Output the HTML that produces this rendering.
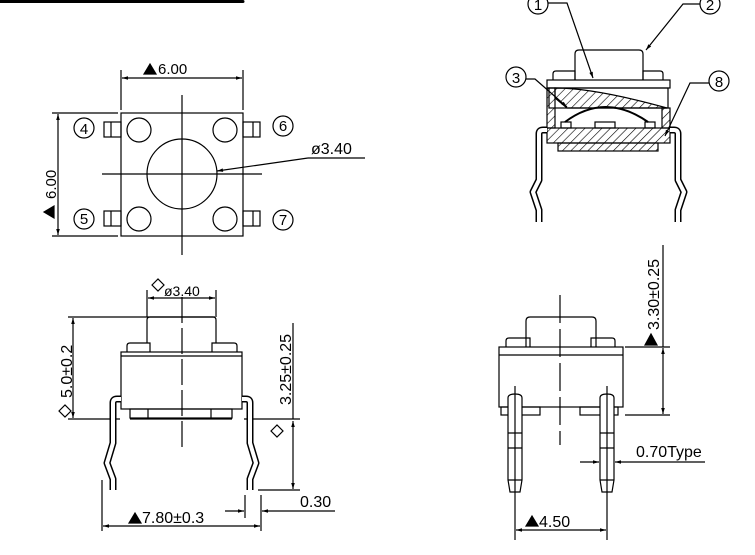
<!DOCTYPE html>
<html><head><style>html,body{margin:0;padding:0;background:#fff}svg{display:block}</style></head><body>
<svg width="755" height="555" viewBox="0 0 755 555" xmlns="http://www.w3.org/2000/svg" font-family="Liberation Sans, sans-serif" fill="none" stroke="#000" stroke-width="1.2">
<defs>
<pattern id="h" width="6" height="6" patternUnits="userSpaceOnUse" patternTransform="rotate(45)"><line x1="0" y1="0" x2="0" y2="6" stroke="#000" stroke-width="1.2"/></pattern>
<marker id="a" viewBox="0 0 10 10" refX="10" refY="5" markerWidth="8" markerHeight="6" orient="auto-start-reverse" markerUnits="userSpaceOnUse"><path d="M0,2L10,5L0,8z" fill="#000" stroke="none"/></marker>
</defs>
<path d="M0,1.5H243" stroke-width="3" stroke-linecap="round"/>

<!-- TOP-LEFT VIEW -->
<rect x="121" y="113" width="122" height="123"/>
<line x1="121" y1="70" x2="121" y2="110"/><line x1="243" y1="70" x2="243" y2="110"/>
<line x1="122" y1="78" x2="242" y2="78" marker-start="url(#a)" marker-end="url(#a)"/>
<path d="M144,74l6,-10l6,10z" fill="#000"/>
<text x="158" y="74" font-size="15" fill="#000" stroke="none">6.00</text>
<line x1="52" y1="113" x2="118" y2="113"/><line x1="52" y1="236" x2="118" y2="236"/>
<line x1="58" y1="114" x2="58" y2="235" marker-start="url(#a)" marker-end="url(#a)"/>
<text transform="translate(56,199) rotate(-90)" font-size="15" fill="#000" stroke="none">6.00</text>
<path d="M44,212l10,-6l0,12z" fill="#000"/>
<line x1="182" y1="95" x2="182" y2="255"/>
<line x1="102" y1="174" x2="262" y2="174"/>
<circle cx="182" cy="174" r="35"/>
<circle cx="139" cy="130" r="12"/><circle cx="225" cy="130" r="12"/>
<circle cx="139" cy="219" r="12"/><circle cx="225" cy="219" r="12"/>
<g>
<rect x="104" y="122" width="17" height="15"/><line x1="111" y1="122" x2="111" y2="137"/>
<rect x="104" y="211" width="17" height="15"/><line x1="111" y1="211" x2="111" y2="226"/>
<rect x="243" y="122" width="17" height="15"/><line x1="253" y1="122" x2="253" y2="137"/>
<rect x="243" y="211" width="17" height="15"/><line x1="253" y1="211" x2="253" y2="226"/>
</g>
<g font-size="15" fill="#000" stroke="none" text-anchor="middle">
<text x="84" y="134">4</text><text x="283" y="131">6</text><text x="84" y="224">5</text><text x="283" y="225">7</text>
</g>
<circle cx="84" cy="128" r="10"/><circle cx="283" cy="126" r="10"/><circle cx="84" cy="219" r="10"/><circle cx="283" cy="220" r="10"/>
<line x1="308" y1="158" x2="217" y2="171" marker-end="url(#a)"/>
<line x1="308" y1="158" x2="365" y2="158"/>
<text x="311" y="154" font-size="16" fill="#000" stroke="none">ø3.40</text>

<!-- TOP-RIGHT SECTION -->
<path d="M575,80V54q0,-4 4,-4h60q4,0 4,4V80"/>
<path d="M553,80v-6q0,-3 3,-3h19v9M643,80v-9h17q3,0 3,3v6"/>
<rect x="547" y="80" width="123" height="8"/>
<rect x="547" y="88" width="8" height="40" fill="url(#h)"/>
<rect x="662" y="108" width="8" height="20" fill="url(#h)"/>
<rect x="549" y="88" width="119" height="20"/>
<path d="M555,88q40,0 112,20h-100l-12,-10z" fill="url(#h)"/>
<path d="M565,122q40,-30 83,0" stroke-width="2"/>
<rect x="561" y="122" width="10" height="6"/><rect x="595" y="122" width="20" height="6"/><rect x="645" y="122" width="10" height="6"/>
<rect x="547" y="128" width="123" height="15" fill="url(#h)"/>
<rect x="558" y="143" width="100" height="8" fill="url(#h)"/>
<path d="M547,130h-4q-4,0 -4,4v46l-6,12l6,18v12M670,130h4q4,0 4,4v46l6,12l-6,18v12" stroke="#000" stroke-width="7" stroke-linejoin="round"/>
<path d="M547,130h-4q-4,0 -4,4v46l-6,12l6,18v12M670,130h4q4,0 4,4v46l6,12l-6,18v12" stroke="#fff" stroke-width="4" stroke-linejoin="round"/>
<circle cx="538" cy="4" r="10"/><text x="538" y="10" font-size="15" fill="#000" stroke="none" text-anchor="middle">1</text>
<path d="M548,3h19l26,75" marker-end="url(#a)"/>
<circle cx="710" cy="4" r="10"/><text x="710" y="10" font-size="15" fill="#000" stroke="none" text-anchor="middle">2</text>
<path d="M700,4h-17l-37,46" marker-end="url(#a)"/>
<circle cx="516" cy="77" r="10"/><text x="516" y="83" font-size="15" fill="#000" stroke="none" text-anchor="middle">3</text>
<path d="M526,79h9l32,28" marker-end="url(#a)"/>
<circle cx="719" cy="81" r="10"/><text x="719" y="87" font-size="15" fill="#000" stroke="none" text-anchor="middle">8</text>
<path d="M709,83h-19l-25,53" marker-end="url(#a)"/>

<!-- BOTTOM-LEFT VIEW -->
<path d="M147,343V320q0,-3 3,-3h63q3,0 3,3V343"/>
<path d="M127,352v-6q0,-3 3,-3h20v9M212,352v-9h22q3,0 3,3v6"/>
<rect x="121" y="352" width="121" height="57"/><line x1="121" y1="356" x2="242" y2="356"/>
<rect x="130" y="409" width="102" height="9"/><line x1="148" y1="409" x2="148" y2="418"/><line x1="211" y1="409" x2="211" y2="418"/>
<line x1="68" y1="419" x2="120" y2="419"/><line x1="130" y1="419" x2="232" y2="419"/><line x1="244" y1="419" x2="300" y2="419"/>
<line x1="68" y1="317" x2="215" y2="317"/>
<line x1="73" y1="318" x2="73" y2="418" marker-start="url(#a)" marker-end="url(#a)"/>
<text transform="translate(72,398) rotate(-90)" font-size="16" fill="#000" stroke="none">5.0±0.2</text>
<path d="M59,411l6,-6l6,6l-6,6z"/>
<line x1="147" y1="290" x2="147" y2="317"/><line x1="216" y1="290" x2="216" y2="317"/>
<line x1="148" y1="298" x2="215" y2="298" marker-start="url(#a)" marker-end="url(#a)"/>
<path d="M152,285l6,-6l6,6l-6,6z"/>
<text x="164" y="296" font-size="14" fill="#000" stroke="none">ø3.40</text>
<line x1="182" y1="297" x2="182" y2="450" stroke-dasharray="26,5"/>
<path d="M121,399h-4q-4,0 -4,4v40l-6,20l6,16v11M242,399h4q4,0 4,4v40l6,20l-6,16v11" stroke="#000" stroke-width="7" stroke-linejoin="round"/>
<path d="M121,399h-4q-4,0 -4,4v40l-6,20l6,16v11M242,399h4q4,0 4,4v40l6,20l-6,16v11" stroke="#fff" stroke-width="4" stroke-linejoin="round"/>
<line x1="293" y1="323" x2="293" y2="419"/>
<line x1="293" y1="421" x2="293" y2="489" marker-start="url(#a)" marker-end="url(#a)"/>
<line x1="258" y1="490" x2="300" y2="490"/>
<text transform="translate(291,405) rotate(-90)" font-size="16" fill="#000" stroke="none">3.25±0.25</text>
<path d="M271,431l6,-6l6,6l-6,6z"/>
<line x1="102" y1="480" x2="102" y2="531"/><line x1="261" y1="495" x2="261" y2="531"/><line x1="245" y1="495" x2="245" y2="518"/>
<line x1="103" y1="526" x2="260" y2="526" marker-start="url(#a)" marker-end="url(#a)"/>
<path d="M129,523l6,-10l6,10z" fill="#000"/>
<text x="142" y="523" font-size="16" fill="#000" stroke="none">7.80±0.3</text>
<line x1="225" y1="511" x2="244" y2="511" marker-end="url(#a)"/>
<line x1="262" y1="511" x2="335" y2="511" marker-start="url(#a)"/>
<text x="300" y="507" font-size="16" fill="#000" stroke="none">0.30</text>

<!-- BOTTOM-RIGHT VIEW -->
<path d="M526,347V321q0,-4 4,-4h62q4,0 4,4V347"/>
<path d="M506,347v-6q0,-3 3,-3h21v9M591,347v-9h21q3,0 3,3v6"/>
<rect x="499" y="347" width="124" height="60"/><line x1="499" y1="355" x2="623" y2="355"/>
<rect x="501" y="407" width="39" height="8"/><rect x="580" y="407" width="38" height="8"/>
<line x1="560" y1="295" x2="560" y2="445" stroke-dasharray="28,6"/>
<g fill="#fff">
<path d="M508,398q0,-4 7,-4q7,0 7,4V480l-2,12h-10l-2,-12z"/>
<path d="M600,398q0,-4 7,-4q7,0 7,4V480l-2,12h-10l-2,-12z"/>
</g>
<path d="M508,433h14M508,448h14M508,480h14M600,433h14M600,448h14M600,480h14"/>
<line x1="515" y1="386" x2="515" y2="540"/><line x1="607" y1="386" x2="607" y2="540"/>
<line x1="625" y1="347" x2="670" y2="347"/><line x1="625" y1="415" x2="670" y2="415"/>
<line x1="663" y1="245" x2="663" y2="347"/>
<line x1="663" y1="348" x2="663" y2="414" marker-start="url(#a)" marker-end="url(#a)"/>
<text transform="translate(659,330) rotate(-90)" font-size="16" fill="#000" stroke="none">3.30±0.25</text>
<path d="M645,345l6,-11l6,11z" fill="#000"/>
<line x1="580" y1="462" x2="599" y2="462" marker-end="url(#a)"/>
<line x1="615" y1="462" x2="705" y2="462" marker-start="url(#a)"/>
<text x="636" y="457" font-size="16" fill="#000" stroke="none">0.70Type</text>
<line x1="516" y1="530" x2="606" y2="530" marker-start="url(#a)" marker-end="url(#a)"/>
<path d="M526,526l6,-10l6,10z" fill="#000"/>
<text x="539" y="527" font-size="16" fill="#000" stroke="none">4.50</text>
</svg>
</body></html>
